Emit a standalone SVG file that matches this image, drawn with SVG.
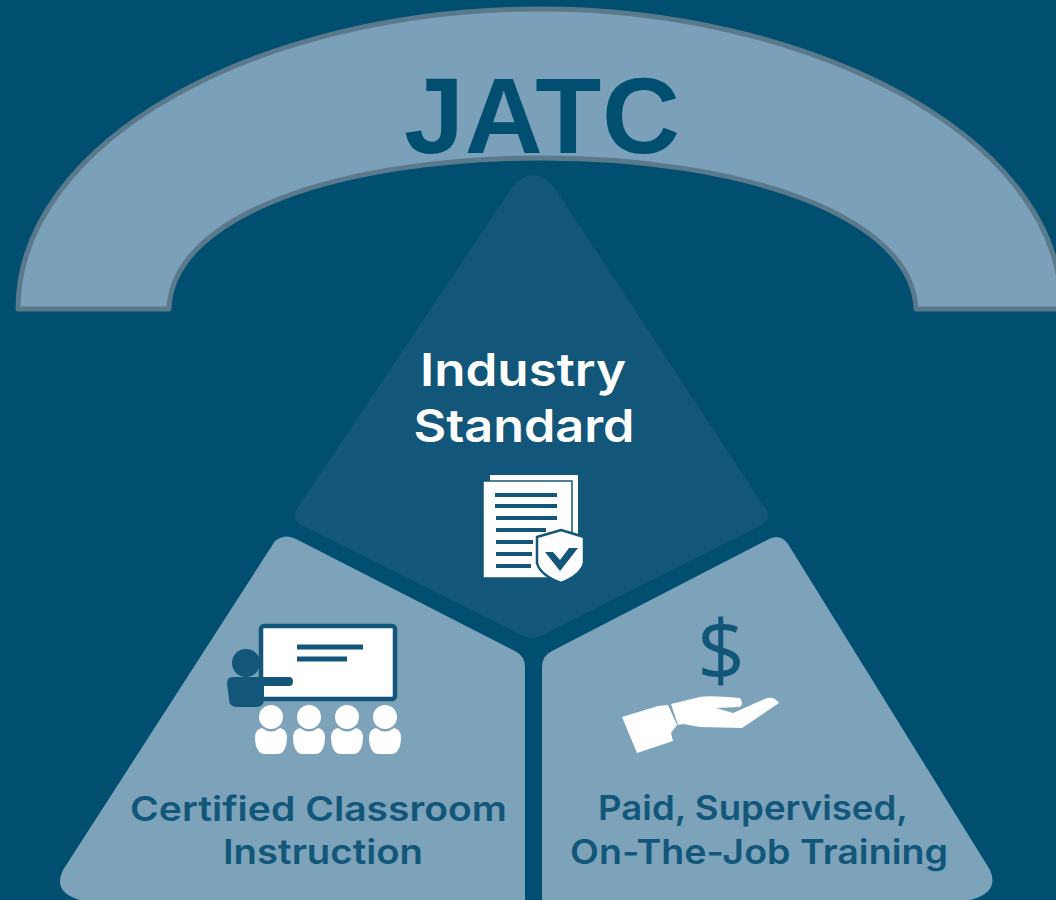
<svg xmlns="http://www.w3.org/2000/svg" width="1056" height="900" viewBox="0 0 1056 900">
<style>
.lab{font-family:"Inter","Noto Sans",sans-serif;font-weight:600;text-anchor:middle}
.w{fill:#fff}
.d{fill:#12567a}
.dl{stroke:#12567a;stroke-width:4;fill:none}
.seg{fill:#7ca3ba}
</style>
<defs>
<path id="pupil" d="M255 736 Q256 729 262 728 Q271 735 280 728 Q286 729 287 736 Q287 746 284 750 Q282 754 277 754 H265 Q260 754 258 750 Q255 746 255 736 Z"/>
</defs>
<rect width="1056" height="900" fill="#004e70"/>
<g id="arch">
<path d="M18 309 C18 140 260 9 540 9 C800 9 1060 130 1062 309 L916 309 C912 215 740 158 542 158 C340 158 172 215 169 309 Z" fill="#7ba0ba" stroke="#5a7a8c" stroke-width="5" stroke-linejoin="round"/>
<text x="542" y="153" font-family="Liberation Sans, Arial, sans-serif" font-weight="700" font-size="108" text-anchor="middle" textLength="276" lengthAdjust="spacing" fill="#004e70">JATC</text>
</g>
<g id="industry-standard">
<path d="M512 187 Q533 163 554 187 L765 508 Q773 520 760 526 L543 635 Q532 641 521 635 L303 526 Q289 519 298 507 Z" fill="#12567a"/>
<text class="lab w" x="523" y="386" font-size="45" textLength="206" lengthAdjust="spacingAndGlyphs">Industry</text>
<text class="lab w" x="524" y="442" font-size="45" textLength="221" lengthAdjust="spacingAndGlyphs">Standard</text>
<g id="doc-icon">
<rect class="w" x="490" y="475" width="88" height="95"/>
<rect class="w" x="483" y="481" width="89" height="97" stroke="#12567a" stroke-width="1.500"/>
<path class="dl" d="M495 495H557M495 506H557M496 518H557M496 530H546M496 542H533M496 554H532M496 566H531"/>
<path d="M561 530 L584 537 L584 563 Q581 575 561 583 Q540 575 537 563 L537 537 Z" fill="#fff" stroke="#12567a" stroke-width="2.500"/>
<path class="d" d="M545 552 H553 L560 560 L569 548 H578 L560 571 Z"/>
</g>
</g>
<g id="classroom">
<path class="seg" d="M275 541 Q285 533 296 539 L515 651 Q525 656 525 667 L525 900 L80 900 Q52 892 63 870 Z"/>
<g id="classroom-icon">
<rect x="261" y="626" width="134" height="73" rx="3" fill="#fff" stroke="#12567a" stroke-width="4.500"/>
<path d="M297 647H363" stroke="#12567a" stroke-width="5"/>
<path d="M297 659H347" stroke="#12567a" stroke-width="5"/>
<circle class="d" cx="246" cy="663" r="14"/>
<path class="d" d="M233 677 H289 Q293 677 293 681.500 Q293 686 289 686 H264 V699 Q264 707 256 707 H237 Q229 707 229 699 L227 683 Q227 677 233 677 Z"/>
<g class="w">
<circle cx="271" cy="717" r="12"/><circle cx="309" cy="717" r="12"/><circle cx="347" cy="717" r="12"/><circle cx="385" cy="717" r="12"/>
<use href="#pupil"/><use href="#pupil" x="38"/><use href="#pupil" x="76"/><use href="#pupil" x="114"/>
</g>
</g>
<text class="lab d" x="318.500" y="821" font-size="34" textLength="377" lengthAdjust="spacingAndGlyphs">Certified Classroom</text>
<text class="lab d" x="323" y="864" font-size="34" textLength="200" lengthAdjust="spacingAndGlyphs">Instruction</text>
</g>
<g id="training">
<path class="seg" d="M769 539 Q780 533 788 544 L990 870 Q1000 892 970 900 L542 900 L542 667 Q542 656 552 651 Z"/>
<g id="training-icon">
<text x="721" y="681" font-family="Open Sans, sans-serif" font-weight="500" font-size="84" text-anchor="middle" fill="#12567a">$</text>
<path class="w" d="M622 717 L658 706 L668 705 L677 725 L671 733 L673 741 L637 753 Z"/>
<path class="w" d="M671 704 L700 697 Q708 695 740 698 Q744 703 740 707 L716 708 L733 713 L767 698 Q775 697 779 703 L742 728 L700 727 L683 724 L678 725 Z"/>
</g>
<text class="lab d" x="753" y="820" font-size="34" textLength="310" lengthAdjust="spacingAndGlyphs">Paid, Supervised,</text>
<text class="lab d" x="759" y="864" font-size="34" textLength="378" lengthAdjust="spacingAndGlyphs">On-The-Job Training</text>
</g>
</svg>
